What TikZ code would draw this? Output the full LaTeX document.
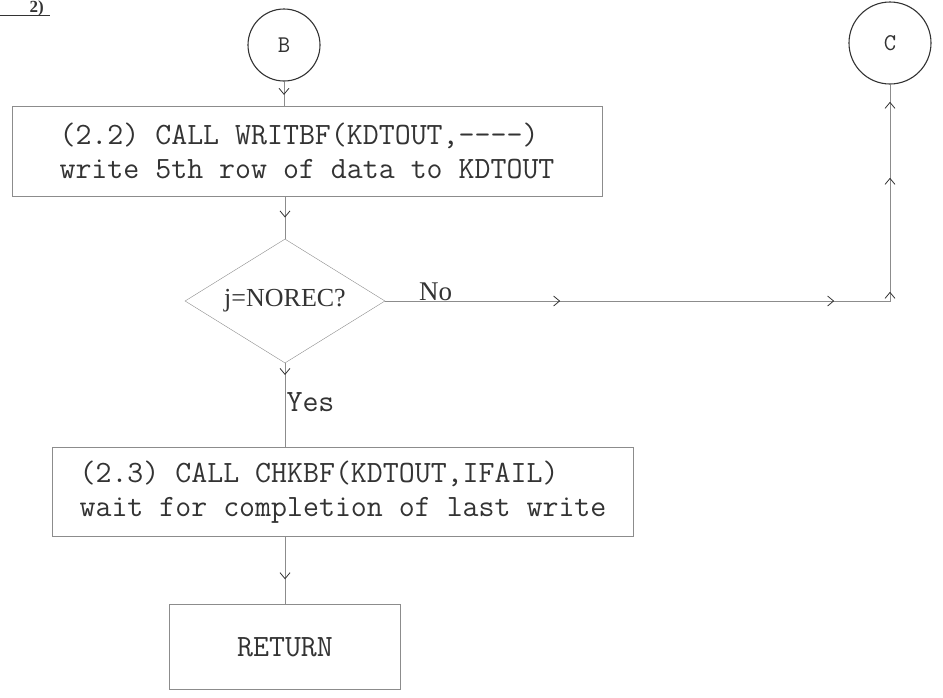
\documentclass[tikz,border=0pt]{standalone}
\usepackage{fontspec}
\newfontfamily\timesfont{Liberation Serif}
\usetikzlibrary{shapes.geometric}
\usetikzlibrary{arrows.meta}
\usetikzlibrary{decorations.markings}
\definecolor{ink}{HTML}{333333}
\definecolor{rule}{HTML}{8C8C8C}
\tikzstyle{procbox}=[draw=rule, thin, inner sep=0pt, align=left, text=ink, font=\ttfamily\fontsize{31}{34}\selectfont]
\tikzstyle{connector}=[circle, draw=ink, line width=1.1pt, inner sep=0pt, text=ink, font=\ttfamily\fontsize{24}{28}\selectfont]
\tikzstyle{decision}=[diamond, draw=rule, thin, inner sep=0pt, aspect=1.6, text=ink, font=\timesfont\fontsize{26}{30}\selectfont]
\tikzstyle{flow}=[draw=rule, thin]
\tikzset{arrowat/.style={postaction={decorate, decoration={markings,
  mark=at position #1 with {\arrow[ink, line width=0.8pt]{Straight Barb[length=6pt, width=10pt]}}}}}}

\begin{document}
\begin{tikzpicture}[x=1pt, y=-1pt]
  \useasboundingbox (0,0) rectangle (943,697);
  \node[anchor=base east, inner sep=0pt, text=ink, font=\timesfont\bfseries\fontsize{17}{19}\selectfont] (tag) at (44,12.5) {2)};
  \draw[ink, thick] (0,15) -- (50,15);

  \node[connector, minimum size=72] (b) at (284,45) {B};
  \node[connector, minimum size=82] (c) at (890,43) {C};
  \node[procbox, minimum width=590, minimum height=90] (writebf) at (307,151)
    {(2.2) CALL WRITBF(KDTOUT,-{}-{}-{}-)\\write 5th row of data to KDTOUT};
  \node[decision, minimum width=200, minimum height=124] (norec) at (285,301) {j=NOREC?};
  \node[procbox, minimum width=581, minimum height=89] (chkbf) at (343,492)
    {(2.3) CALL CHKBF(KDTOUT,IFAIL)\\wait for completion of last write};
  \node[procbox, minimum width=231, minimum height=85] (ret) at (285,647) {RETURN};

  \draw[flow, arrowat=0.55] (b.south) -- (b.south |- writebf.north);
  \draw[flow, arrowat=0.5] (norec.north |- writebf.south) -- (norec.north);
  \draw[flow, arrowat=0.14] (norec.south) -- (norec.south |- chkbf.north)
    node[pos=0.46, right=-2pt, text=ink, font=\ttfamily\fontsize{31}{34}\selectfont] (yes) {Yes};
  \draw[flow, arrowat=0.63] (ret.north |- chkbf.south) -- (ret.north);
  \draw[flow, postaction={decorate, decoration={markings,
      mark=at position 175pt with {\arrow[ink, line width=0.8pt]{Straight Barb[length=6pt, width=10pt]}},
      mark=at position 449pt with {\arrow[ink, line width=0.8pt]{Straight Barb[length=6pt, width=10pt]}},
      mark=at position 514pt with {\arrow[ink, line width=0.8pt]{Straight Barb[length=6pt, width=10pt]}},
      mark=at position 628pt with {\arrow[ink, line width=0.8pt]{Straight Barb[length=6pt, width=10pt]}},
      mark=at position 704pt with {\arrow[ink, line width=0.8pt]{Straight Barb[length=6pt, width=10pt]}}}}]
    (norec.east) -| (c.south)
    node[pos=0.05, anchor=south, inner sep=0pt, text=ink, font=\timesfont\fontsize{27}{30}\selectfont] (no) {No};
\end{tikzpicture}
\end{document}
